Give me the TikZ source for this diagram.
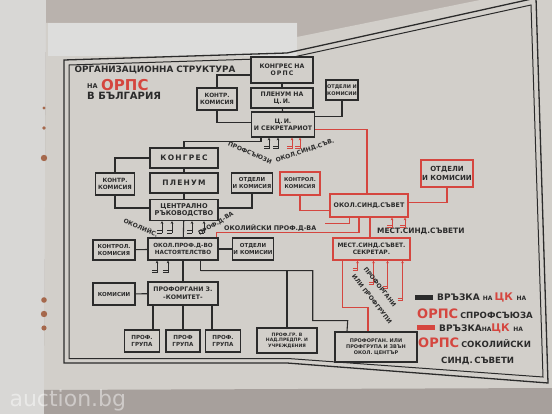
\documentclass[tikz,border=0pt]{standalone}
\usepackage{fontspec}
\setmainfont{DejaVu Sans}
\usetikzlibrary{calc,arrows.meta}
\definecolor{pagec}{HTML}{D2CFCA}
\definecolor{tablec}{HTML}{B9B2AD}
\definecolor{leftp}{HTML}{D8D7D5}
\definecolor{flap}{HTML}{DDDDDC}
\definecolor{ink}{HTML}{2B2B2B}
\definecolor{rd}{HTML}{D5463F}
\definecolor{stain}{HTML}{9A4E2C}
\tikzset{
 bx/.style={draw=ink, line width=1.4pt, fill=pagec, align=center, inner sep=1pt,
   font=\fontsize{6.2}{7.2}\selectfont\bfseries, text=ink},
 rbx/.style={bx, draw=rd},
 ln/.style={draw=ink, line width=1.1pt},
 rln/.style={draw=rd, line width=1.1pt},
 lab/.style={font=\fontsize{6}{6}\selectfont\bfseries, text=ink, inner sep=0pt},
 arr/.style={-{Stealth[length=2.6pt,width=2.8pt]}},
 frm/.style={draw=ink, line width=1.3pt},
}
\newcommand\mystub[4]{%
 \draw[#1, line width=0.8pt, arr] ($(#2)+(#3,#4)$) -- ($(#2)+(#3,0)$);
 \draw[#1, line width=0.8pt] ($(#2)+(#3-5,#4)$) -- ++(5,0) ($(#2)+(#3-5,#4-2.5)$) -- ++(5,0);}
\begin{document}
\begin{tikzpicture}[x=1pt,y=-1pt]
\useasboundingbox (0,0) rectangle (552,414);
% ---------- paper ----------
\fill[tablec] (0,0) rectangle (552,414);
\fill[leftp] (0,0) -- (46,0) -- (44,414) -- (0,414) -- cycle;
\fill[pagec] (46,23) -- (297,23) -- (297,37) -- (480,0) -- (552,0) -- (552,390) -- (44,392) -- cycle;
\fill[flap] (48,23) rectangle (297,56);
\fill[tablec!90!black] (44,390) -- (552,388) -- (552,414) -- (44,414) -- cycle;
\foreach \yy/\rr in {108/1.6,128/1.8,158/3.2,300/2.8,314/3.2,328/2.6}
  \fill[stain, opacity=.8] (44,\yy) circle (\rr);
\node[font=\fontsize{22}{22}\selectfont, text=white, opacity=.45, anchor=west] (wm) at (6,400) {auction.bg};
% ---------- frame ----------
\draw[frm] (64,60) -- (287,53) -- (536,-2) -- (548,383) -- (287,363) -- (64,363) -- cycle;
\draw[frm, line width=1pt] (69,65) -- (289,58) -- (531,5) -- (543,377) -- (288,358.5) -- (69,358.5) -- cycle;
% ---------- title ----------
\node[font=\fontsize{8.8}{9}\selectfont\bfseries, text=ink, inner sep=0] (t1) at (155,70) {ОРГАНИЗАЦИОННА СТРУКТУРА};
\node[font=\fontsize{6.5}{7}\selectfont\bfseries, text=ink, inner sep=0, anchor=south west] (t2) at (87,89) {НА};
\node[font=\fontsize{15}{15}\selectfont\bfseries, text=rd, inner sep=0, anchor=south west] (t3) at (101,91) {ОРПС};
\node[font=\fontsize{10}{10}\selectfont\bfseries, text=ink, inner sep=0, anchor=west] (t4) at (87,96) {В БЪЛГАРИЯ};
% ---------- top cluster ----------
\node[bx, minimum width=62, minimum height=26] (kong1) at (282,70) {КОНГРЕС НА\\О\,Р\,П\,С};
\node[bx, minimum width=62, minimum height=20] (plen1) at (282,98) {ПЛЕНУМ НА\\Ц.\,И.};
\node[bx, minimum width=63, minimum height=25] (ci) at (283,124.5) {Ц.\,И.\\И СЕКРЕТАРИОТ};
\node[bx, minimum width=40, minimum height=22, font=\fontsize{5.8}{7}\selectfont\bfseries] (kk1) at (217,99) {КОНТР.\\КОМИСИЯ};
\node[bx, minimum width=32, minimum height=20, font=\fontsize{5}{6.4}\selectfont\bfseries] (ok1) at (342,90) {ОТДЕЛИ И\\КОМИСИИ};
\draw[ln] (kong1) -- (plen1); \draw[ln] (plen1) -- (ci);
\draw[ln] ($(kong1.west)+(0,5)$) -| (kk1.north);
\draw[ln] (kk1.south) |- ($(ci.west)+(0,-2)$);
\draw[ln] (ok1.south) |- ($(ci.east)+(0,-8)$);
% ---------- middle cluster ----------
\node[bx, minimum width=68, minimum height=20, font=\fontsize{7.5}{8}\selectfont\bfseries] (kong2) at (184,158) {К\,О\,Н\,Г\,Р\,Е\,С};
\node[bx, minimum width=68, minimum height=20, font=\fontsize{7.5}{8}\selectfont\bfseries] (plen2) at (184,183) {П\,Л\,Е\,Н\,У\,М};
\node[bx, minimum width=68, minimum height=21, font=\fontsize{6.6}{7.4}\selectfont\bfseries] (cr) at (184,210) {ЦЕНТРАЛНО\\РЪКОВОДСТВО};
\node[bx, minimum width=39, minimum height=22, font=\fontsize{5.8}{7}\selectfont\bfseries] (kk2) at (115,184) {КОНТР.\\КОМИСИЯ};
\node[bx, minimum width=40, minimum height=20, font=\fontsize{5.5}{7}\selectfont\bfseries] (ok2) at (252,183) {ОТДЕЛИ\\И КОМИСИЯ};
\draw[ln] (kong2) -- (plen2); \draw[ln] (plen2) -- (cr);
\draw[ln] ($(kong2.west)+(0,0)$) -| (kk2.north);
\draw[ln] (kk2.south) |- ($(cr.west)+(0,-2)$);
\draw[ln] (ok2.south) |- ($(cr.east)+(0,-2)$);
\draw[ln] (kong2.north) |- ($(ci.south)+(-22,4)$) -- ($(ci.south)+(-22,0)$);
\mystub{ink}{ci.south}{-14}{11}
\mystub{ink}{ci.south}{-5}{11}
\mystub{rd}{ci.south}{9}{11}
\mystub{rd}{ci.south}{17}{11}
\node[lab, rotate=-23] (lp1) at (250,153) {ПРОФСЪЮЗИ};
\node[lab, rotate=19] (lp2) at (305,151) {ОКОЛ.СИНД.СЪВ.};
% ---------- lower cluster ----------
\node[bx, minimum width=70, minimum height=22, font=\fontsize{5.7}{7}\selectfont\bfseries] (nast) at (183,249) {ОКОЛ.ПРОФ.Д-ВО\\НАСТОЯТЕЛСТВО};
\node[bx, minimum width=42, minimum height=20, font=\fontsize{5.5}{7}\selectfont\bfseries] (kk3) at (114,250) {КОНТРОЛ.\\КОМИСИЯ};
\node[bx, minimum width=40, minimum height=22, font=\fontsize{5.5}{7}\selectfont\bfseries] (ok3) at (253,249) {ОТДЕЛИ\\И КОМИСИИ};
\node[bx, minimum width=70, minimum height=23, font=\fontsize{6.2}{7.6}\selectfont\bfseries] (prof) at (183,293.5) {ПРОФОРГАНИ З.\\-КОМИТЕТ-};
\node[bx, minimum width=42, minimum height=22, font=\fontsize{5.5}{7}\selectfont\bfseries] (kom) at (114,294) {КОМИСИИ};
\node[bx, minimum width=35, minimum height=22, font=\fontsize{5.6}{7}\selectfont\bfseries] (pg1) at (142,341) {ПРОФ.\\ГРУПА};
\node[bx, minimum width=34, minimum height=22, font=\fontsize{5.6}{7}\selectfont\bfseries] (pg2) at (183,341) {ПРОФ\\ГРУПА};
\node[bx, minimum width=35, minimum height=22, font=\fontsize{5.6}{7}\selectfont\bfseries] (pg3) at (223,341) {ПРОФ.\\ГРУПА};
\node[bx, minimum width=60, minimum height=25, font=\fontsize{4.6}{5.4}\selectfont\bfseries] (pgn) at (287,340.5) {ПРОФ.ГР. В\\НАД.ПРЕДПР. И\\УЧРЕЖДЕНИЯ};
\node[bx, minimum width=82, minimum height=30, font=\fontsize{5}{5.8}\selectfont\bfseries] (pgv) at (376,347) {ПРОФОРГАН. ИЛИ\\ПРОФГРУПА И ЗВЪН\\ОКОЛ. ЦЕНТЪР};
\draw[ln] (cr) -- (nast);
\draw[ln] (kk3) -- (nast); \draw[ln] (ok3) -- (nast);
\draw[ln] (nast) -- (prof);
\draw[ln] (kom) -- (prof);
\draw[ln] ($(prof.south)+(-30,0)$) -- ($(pg1.north)+(11,0)$);
\draw[ln] (prof.south) -- (pg2.north);
\draw[ln] ($(prof.south)+(29,0)$) -- ($(pg3.north)+(-11,0)$);
\draw[ln] ($(nast.south east)+(-18,0)$) -- ++(0,10) -| (pgn.north);
\draw[ln] ($(nast.south east)+(-18,10)$) -- ++(112,0) |- ++(35,50) -- ($(pgv.north)+(-29,0)$);
\mystub{ink}{cr.south}{-22}{12}
\mystub{ink}{cr.south}{-12}{12}
\mystub{ink}{cr.south}{8}{12}
\mystub{ink}{cr.south}{20}{12}
\mystub{ink}{nast.south}{-26}{12}
\mystub{ink}{nast.south}{-15}{12}
\node[lab, rotate=-24] (lo1) at (141,227) {ОКОЛИЙС.};
\node[lab, rotate=31] (lo2) at (216,224) {ПРОФ.Д-ВА};
\node[lab, font=\fontsize{6.4}{6.4}\selectfont\bfseries, anchor=west] (lo3) at (224,228.5) {ОКОЛИЙСКИ ПРОФ.Д-ВА};
% ---------- red cluster ----------
\node[rbx, minimum width=40, minimum height=23, font=\fontsize{5.3}{7}\selectfont\bfseries] (rkk) at (300,183.5) {КОНТРОЛ.\\КОМИСИЯ};
\node[rbx, minimum width=50, minimum height=27, font=\fontsize{7}{8.5}\selectfont\bfseries] (rok) at (447,173.5) {ОТДЕЛИ\\И КОМИСИИ};
\node[rbx, minimum width=78, minimum height=23, font=\fontsize{6.3}{7}\selectfont\bfseries] (os) at (369,205.5) {ОКОЛ.СИНД.СЪВЕТ};
\node[rbx, minimum width=77, minimum height=22, font=\fontsize{6}{7.4}\selectfont\bfseries] (ms) at (371.5,249) {МЕСТ.СИНД.СЪВЕТ.\\СЕКРЕТАР.};
\node[lab, font=\fontsize{7.4}{7.4}\selectfont\bfseries, anchor=west] (mst) at (377,231) {МЕСТ.СИНД.СЪВЕТИ};
\draw[rln] ($(ci.east)+(0,5)$) -| ($(os.north)+(-2,0)$);
\draw[rln] (rkk.south) |- ($(os.west)+(0,5)$);
\draw[rln] (rok.south) |- ($(os.east)+(0,-3)$);
\draw[rln] ($(os.south)+(1,0)$) -- ($(ms.north)+(-1.5,0)$);
\draw[rln] ($(os.south)+(-10,0)$) |- ($(nast.north east)+(-2,-5)$) -- ($(nast.north east)+(-2,0)$);
\draw[rln, line width=0.8pt] ($(os.south)+(-20,0)$) |- ++(-24,6);
\mystub{rd}{os.south}{23}{10}
\mystub{rd}{os.south}{36}{10}
\draw[rln] ($(ms.south west)+(10,0)$) |- ($(pgv.north)+(-8,-24)$) -- ($(pgv.north)+(-8,0)$);
\mystub{rd}{ms.south}{-14}{10}
\mystub{rd}{ms.south}{2}{24}
\mystub{rd}{ms.south}{16}{28}
\mystub{rd}{ms.south}{31}{40}
\node[lab, font=\fontsize{6}{7}\selectfont\bfseries, rotate=-52] (lpg1) at (380,287) {ПРОФОРГАНИ};
\node[lab, font=\fontsize{6}{7}\selectfont\bfseries, rotate=-52] (lpg2) at (372,299) {ИЛИ ПРОФГРУПИ};
% ---------- legend ----------
\fill[ink] (415,295.5) rectangle (433,300.5);
\node[inner sep=0, anchor=west, text=ink] (lg1) at (437,297.5) {\fontsize{9}{9}\selectfont\bfseries ВРЪЗКА \fontsize{6}{6}\selectfont НА \fontsize{10.5}{10.5}\selectfont\textcolor{rd}{ЦК} \fontsize{6}{6}\selectfont НА};
\node[inner sep=0, anchor=west, text=ink] (lg2) at (417,314) {\fontsize{13}{13}\selectfont\bfseries\textcolor{rd}{ОРПС}\,\fontsize{8}{8}\selectfont С\fontsize{8.6}{8.6}\selectfont ПРОФСЪЮЗА};
\fill[rd] (417,325.5) rectangle (435,330.5);
\node[inner sep=0, anchor=west, text=ink] (lg3) at (439,328) {\fontsize{9}{9}\selectfont\bfseries ВРЪЗКА\fontsize{6}{6}\selectfont НА\fontsize{10.5}{10.5}\selectfont\textcolor{rd}{ЦК} \fontsize{6}{6}\selectfont НА};
\node[inner sep=0, anchor=west, text=ink] (lg4) at (418,343) {\fontsize{13}{13}\selectfont\bfseries\textcolor{rd}{ОРПС}\,\fontsize{8}{8}\selectfont С\fontsize{8.6}{8.6}\selectfont ОКОЛИЙСКИ};
\node[inner sep=0, anchor=west, text=ink] (lg5) at (441,361) {\fontsize{8.6}{8.6}\selectfont\bfseries СИНД.\,СЪВЕТИ};
\end{tikzpicture}
\end{document}
